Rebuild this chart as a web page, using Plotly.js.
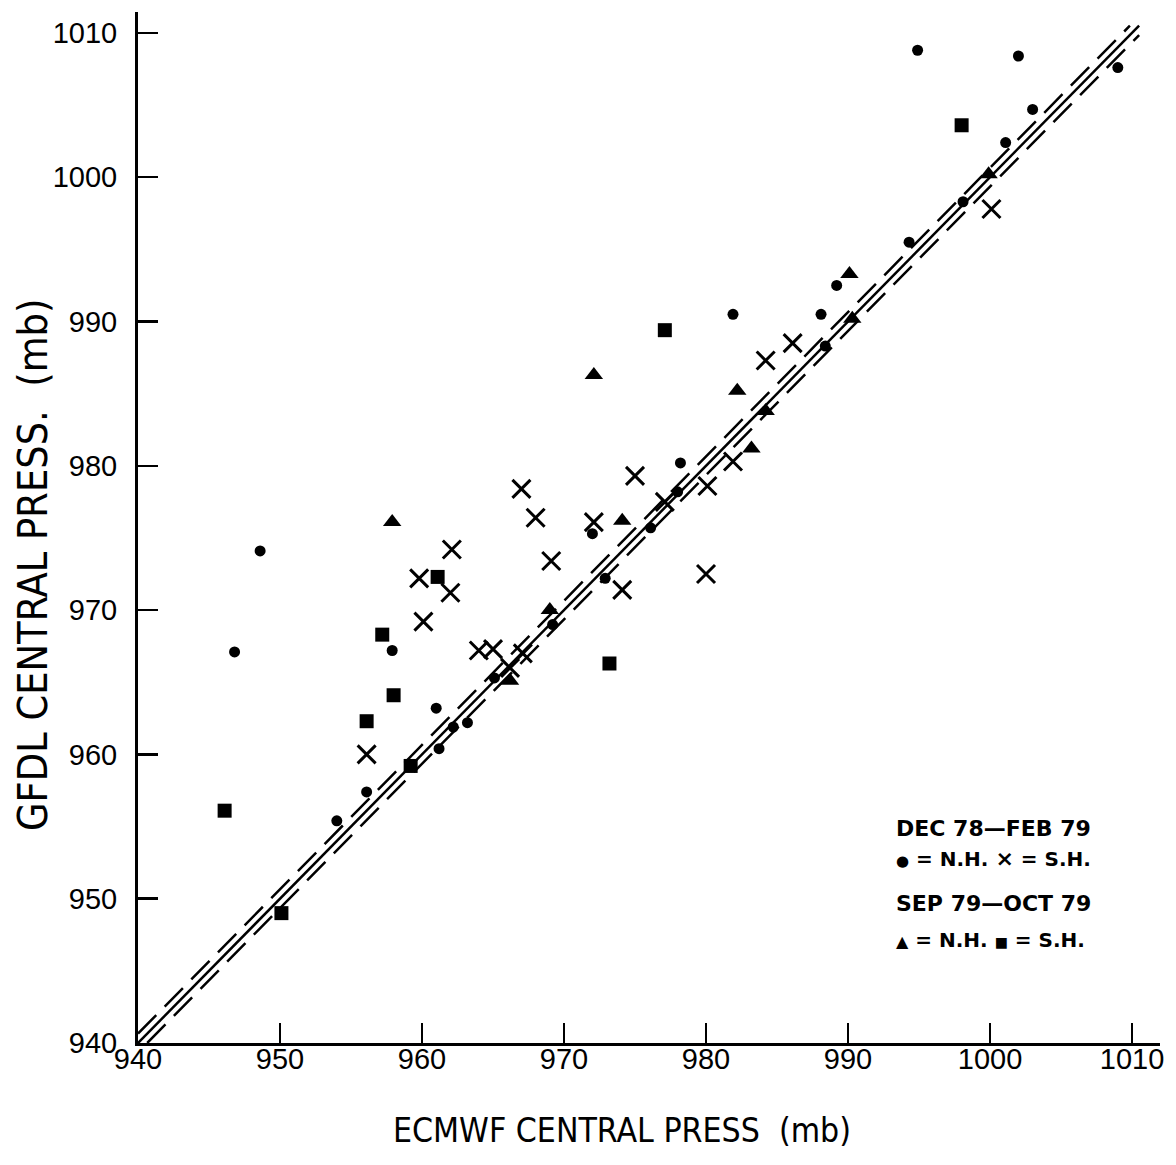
<!DOCTYPE html>
<html>
<head>
<meta charset="utf-8">
<script src="https://cdn.plot.ly/plotly-3.0.1.min.js"></script>
<style>
  html, body { margin: 0; padding: 0; background: #ffffff; }
  #chart { width: 1176px; height: 1165px; }
</style>
</head>
<body>
<div id="chart"></div>
<script>
// ---- Data (mb) ----
// Dec 78 - Feb 79, Northern Hemisphere (filled circles)
const nhWinterX = [948.6, 946.8, 957.9, 961.0, 962.2, 963.2, 961.2, 956.1, 954.0, 965.1, 969.2, 972.9, 972.0, 976.1, 978.0, 978.2, 981.9, 988.1, 988.4, 989.2, 994.3, 998.1, 1001.1, 1003.0, 994.9, 1002.0, 1009.0];
const nhWinterY = [974.1, 967.1, 967.2, 963.2, 961.9, 962.2, 960.4, 957.4, 955.4, 965.3, 969.0, 972.2, 975.3, 975.7, 978.2, 980.2, 990.5, 990.5, 988.3, 992.5, 995.5, 998.3, 1002.4, 1004.7, 1008.8, 1008.4, 1007.6];
// Dec 78 - Feb 79, Southern Hemisphere (crosses)
const shWinterX = [956.1, 960.1, 959.8, 962.0, 962.1, 964.0, 965.0, 967.1, 966.2, 967.0, 968.0, 969.1, 972.1, 974.1, 975.0, 977.1, 980.0, 980.1, 981.9, 984.2, 986.1, 1000.1];
const shWinterY = [960.0, 969.2, 972.2, 971.2, 974.2, 967.2, 967.3, 967.0, 966.0, 978.4, 976.4, 973.4, 976.1, 971.4, 979.3, 977.5, 972.5, 978.6, 980.3, 987.3, 988.5, 997.8];
// Sep 79 - Oct 79, Northern Hemisphere (filled triangles)
const nhAutumnX = [957.9, 966.2, 969.0, 974.1, 972.1, 982.2, 984.2, 983.2, 990.3, 990.1, 999.9];
const nhAutumnY = [976.1, 965.1, 970.0, 976.2, 986.3, 985.2, 983.8, 981.2, 990.2, 993.3, 1000.2];
// Sep 79 - Oct 79, Southern Hemisphere (filled squares)
const shAutumnX = [946.1, 950.1, 956.1, 958.0, 957.2, 959.2, 961.1, 973.2, 977.1, 998.0];
const shAutumnY = [956.1, 949.0, 962.3, 964.1, 968.3, 959.2, 972.3, 966.3, 989.4, 1003.6];

// Reference lines: one-to-one line and a band around it
const diagEnds = [940, 1010.5];
const bandOffset = 0.65;

// Axes
const axisRangeX = [940, 1011.97];
const axisRangeY = [940, 1011.45];
const tickValues = [940, 950, 960, 970, 980, 990, 1000, 1010];
const tickLabels = ["940", "950", "960", "970", "980", "990", "1000", "1010"];

const xTitle = "ECMWF CENTRAL PRESS\u00a0\u00a0(mb)";
const yTitle = "GFDL CENTRAL PRESS.\u00a0\u00a0(mb)";
const legendLines = [
  "DEC 78\u2014FEB 79",
  "<span style=\"font-size:15px\">\u25CF</span> = N.H. <span style=\"font-size:22px\">\u00D7</span> = S.H.",
  "SEP 79\u2014OCT 79",
  "<span style=\"font-size:16px\">\u25B2</span> = N.H. <span style=\"font-size:14px\">\u25A0</span> = S.H."
];

// ---- Traces ----
const lo = diagEnds[0], hi = diagEnds[1];
const traces = [
  { x: [lo, hi], y: [lo, hi], mode: 'lines', line: { color: '#000', width: 2.5 }, hoverinfo: 'skip' },
  { x: [lo, hi - bandOffset], y: [lo + bandOffset, hi], mode: 'lines', line: { color: '#000', width: 2.5, dash: '26px,12px' }, hoverinfo: 'skip' },
  { x: [lo + bandOffset, hi], y: [lo, hi - bandOffset], mode: 'lines', line: { color: '#000', width: 2.5, dash: '26px,12px' }, hoverinfo: 'skip' },
  { x: nhWinterX, y: nhWinterY, mode: 'markers', name: 'DEC 78-FEB 79 N.H.',
    marker: { symbol: 'circle', size: 11, color: '#000' } },
  { x: shWinterX, y: shWinterY, mode: 'markers', name: 'DEC 78-FEB 79 S.H.',
    marker: { symbol: 'x-thin-open', size: 18, color: '#000', line: { color: '#000', width: 3 } } },
  { x: nhAutumnX, y: nhAutumnY, mode: 'markers', name: 'SEP 79-OCT 79 N.H.',
    marker: { symbol: 'triangle-up', size: 16, color: '#000' } },
  { x: shAutumnX, y: shAutumnY, mode: 'markers', name: 'SEP 79-OCT 79 S.H.',
    marker: { symbol: 'square', size: 14, color: '#000' } }
];

const tickFont = { family: 'Liberation Sans, Arial, sans-serif', size: 29, color: '#000' };
const condensed = 'DejaVu Sans Condensed, Liberation Sans Narrow, Arial Narrow, sans-serif';
const xTitleFont = { family: condensed, size: 33.5, color: '#000' };
const yTitleFont = { family: condensed, size: 41, color: '#000' };
const legHeadFont = { family: 'DejaVu Sans, sans-serif', size: 22, color: '#000', weight: 700 };
const legKeyFont = { family: 'DejaVu Sans, sans-serif', size: 20, color: '#000', weight: 700 };

const W = 1176, H = 1165, ml = 138, mr = 16, mt = 12, mb = 122;
const pw = W - ml - mr, ph = H - mt - mb;
const px = v => (v - ml) / pw;
const py = v => (H - mb - v) / ph;

const legendRows = [828, 858, 903, 940];
const annotations = [
  { text: xTitle, xref: 'paper', yref: 'paper', x: px(622), y: py(1130), xanchor: 'center', yanchor: 'middle', showarrow: false, font: xTitleFont },
  { text: yTitle, xref: 'paper', yref: 'paper', x: px(33), y: py(565), xanchor: 'center', yanchor: 'middle', textangle: -90, showarrow: false, font: yTitleFont }
];
legendLines.forEach((t, i) => {
  annotations.push({ text: t, xref: 'paper', yref: 'paper', x: px(894), y: py(legendRows[i]), xanchor: 'left', yanchor: 'middle', showarrow: false, font: (i % 2 === 0) ? legHeadFont : legKeyFont });
});

const axisCommon = {
  showline: true, linecolor: '#000', linewidth: 3,
  ticks: 'inside', ticklen: 20, tickwidth: 2.5, tickcolor: '#000',
  tickmode: 'array', tickvals: tickValues, ticktext: tickLabels,
  showgrid: false, zeroline: false, tickfont: tickFont, mirror: false
};

const layout = {
  width: W, height: H,
  margin: { l: ml, r: mr, t: mt, b: mb, pad: 0 },
  paper_bgcolor: '#fff', plot_bgcolor: '#fff',
  showlegend: false,
  xaxis: Object.assign({}, axisCommon, { range: axisRangeX, ticklabelstandoff: -12 }),
  yaxis: Object.assign({}, axisCommon, { range: axisRangeY, ticklabelstandoff: 12 }),
  annotations: annotations
};

Plotly.newPlot('chart', traces, layout, { displayModeBar: false, staticPlot: true });
</script>
</body>
</html>
